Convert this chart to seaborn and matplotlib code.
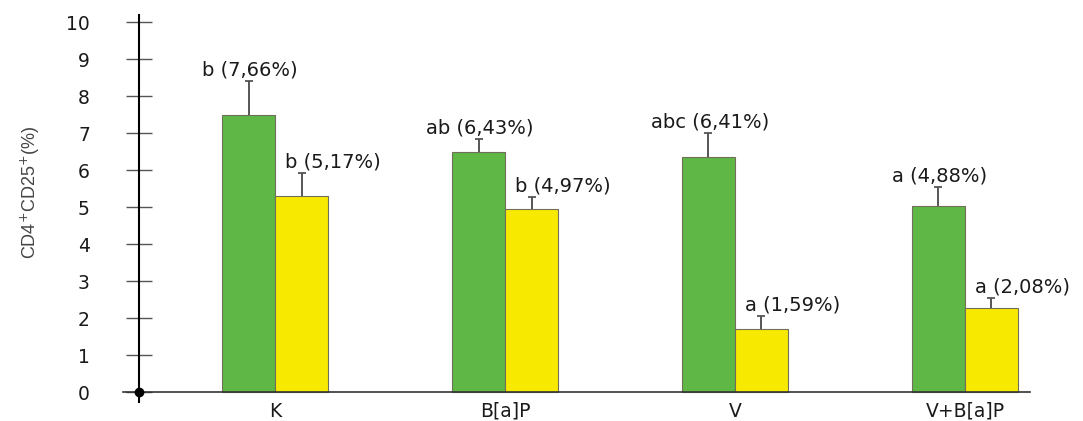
import matplotlib
matplotlib.use("Agg")
import matplotlib.pyplot as plt
import seaborn as sns
import pandas as pd
import numpy as np

# ---- data ----
groups = ["K", "B[a]P", "V", "V+B[a]P"]
series = ["seria 1", "seria 2"]
green_vals = [7.49, 6.48, 6.34, 5.04]
green_err = [0.92, 0.35, 0.67, 0.51]
yellow_vals = [5.31, 4.96, 1.69, 2.26]
yellow_err = [0.61, 0.32, 0.36, 0.27]
green_labels = ["b (7,66%)", "ab (6,43%)", "abc (6,41%)", "a (4,88%)"]
yellow_labels = ["b (5,17%)", "b (4,97%)", "a (1,59%)", "a (2,08%)"]
yticks = list(range(0, 11))

GREEN = "#5FB845"
YELLOW = "#F7E900"

df = pd.DataFrame({
    "group": groups * 2,
    "series": [series[0]] * 4 + [series[1]] * 4,
    "value": green_vals + yellow_vals,
})

sns.set_style("white")
plt.rcParams["font.family"] = ["DejaVu Sans"]

fig = plt.figure(figsize=(10.83, 4.21), dpi=100)
ax = fig.add_axes([0.1136, 0.0451, 0.8375, 0.9193])

sns.barplot(data=df, x="group", y="value", hue="series", order=groups,
            hue_order=series, palette=[GREEN, YELLOW], saturation=1,
            width=0.461, errorbar=None, edgecolor="#6f6f5a", linewidth=0.8,
            legend=False, ax=ax, zorder=2)

errs = [green_err, yellow_err]
vals = [green_vals, yellow_vals]
labels = [green_labels, yellow_labels]
bar_containers = list(ax.containers)
for i, cont in enumerate(bar_containers):
    xs = [p.get_x() + p.get_width() / 2 for p in cont.patches]
    tops = [v + e for v, e in zip(vals[i], errs[i])]
    ax.vlines(xs, vals[i], tops, colors="#555555", linewidth=1.4, zorder=1)
    ax.plot(xs, tops, linestyle="none", marker="_", markersize=6,
            markeredgewidth=1.3, color="#555555", zorder=1)
    for x, top, t in zip(xs, tops, labels[i]):
        if i == 0:
            ax.annotate(t, (x, top), xytext=(1, 8), textcoords="offset points",
                        ha="center", va="center", fontsize=14, color="#1a1a1a")
        else:
            ax.annotate(t, (x, top), xytext=(-12, 8), textcoords="offset points",
                        ha="left", va="center", fontsize=14, color="#1a1a1a")

ax.set_xlim(-0.661, 3.283)
ax.set_ylim(-0.27, 10.19)
ax.set_yticks(yticks)
ax.set_yticklabels([str(t) for t in yticks])
ax.set_xlabel("")
ax.set_ylabel("")

for s in ["top", "right"]:
    ax.spines[s].set_visible(False)
spine_x = 16 / 907
ax.spines["left"].set_position(("axes", spine_x))
ax.spines["left"].set_color("black")
ax.spines["left"].set_linewidth(1.5)
ax.spines["bottom"].set_position(("data", 0))
ax.spines["bottom"].set_color("#333333")
ax.spines["bottom"].set_linewidth(1.2)

ax.tick_params(axis="y", direction="inout", length=18.7, width=1.0,
               color="#555555", pad=26, left=True, labelsize=13.5,
               labelcolor="#1a1a1a")
ax.tick_params(axis="x", length=0, pad=7, labelsize=13.5, labelcolor="#1a1a1a")

# origin dot
ax.plot([spine_x], [0], marker="o", markersize=6, color="black",
        transform=ax.get_yaxis_transform(), clip_on=False, zorder=5)

fig.text(30 / 1083, 1 - 192 / 421, r"CD4$^{+}$CD25$^{+}$(%)", rotation=90,
         ha="center", va="center", fontsize=13, color="#444444",
         family=["Liberation Sans", "DejaVu Sans"])

fig.savefig("out.png", dpi=100)
